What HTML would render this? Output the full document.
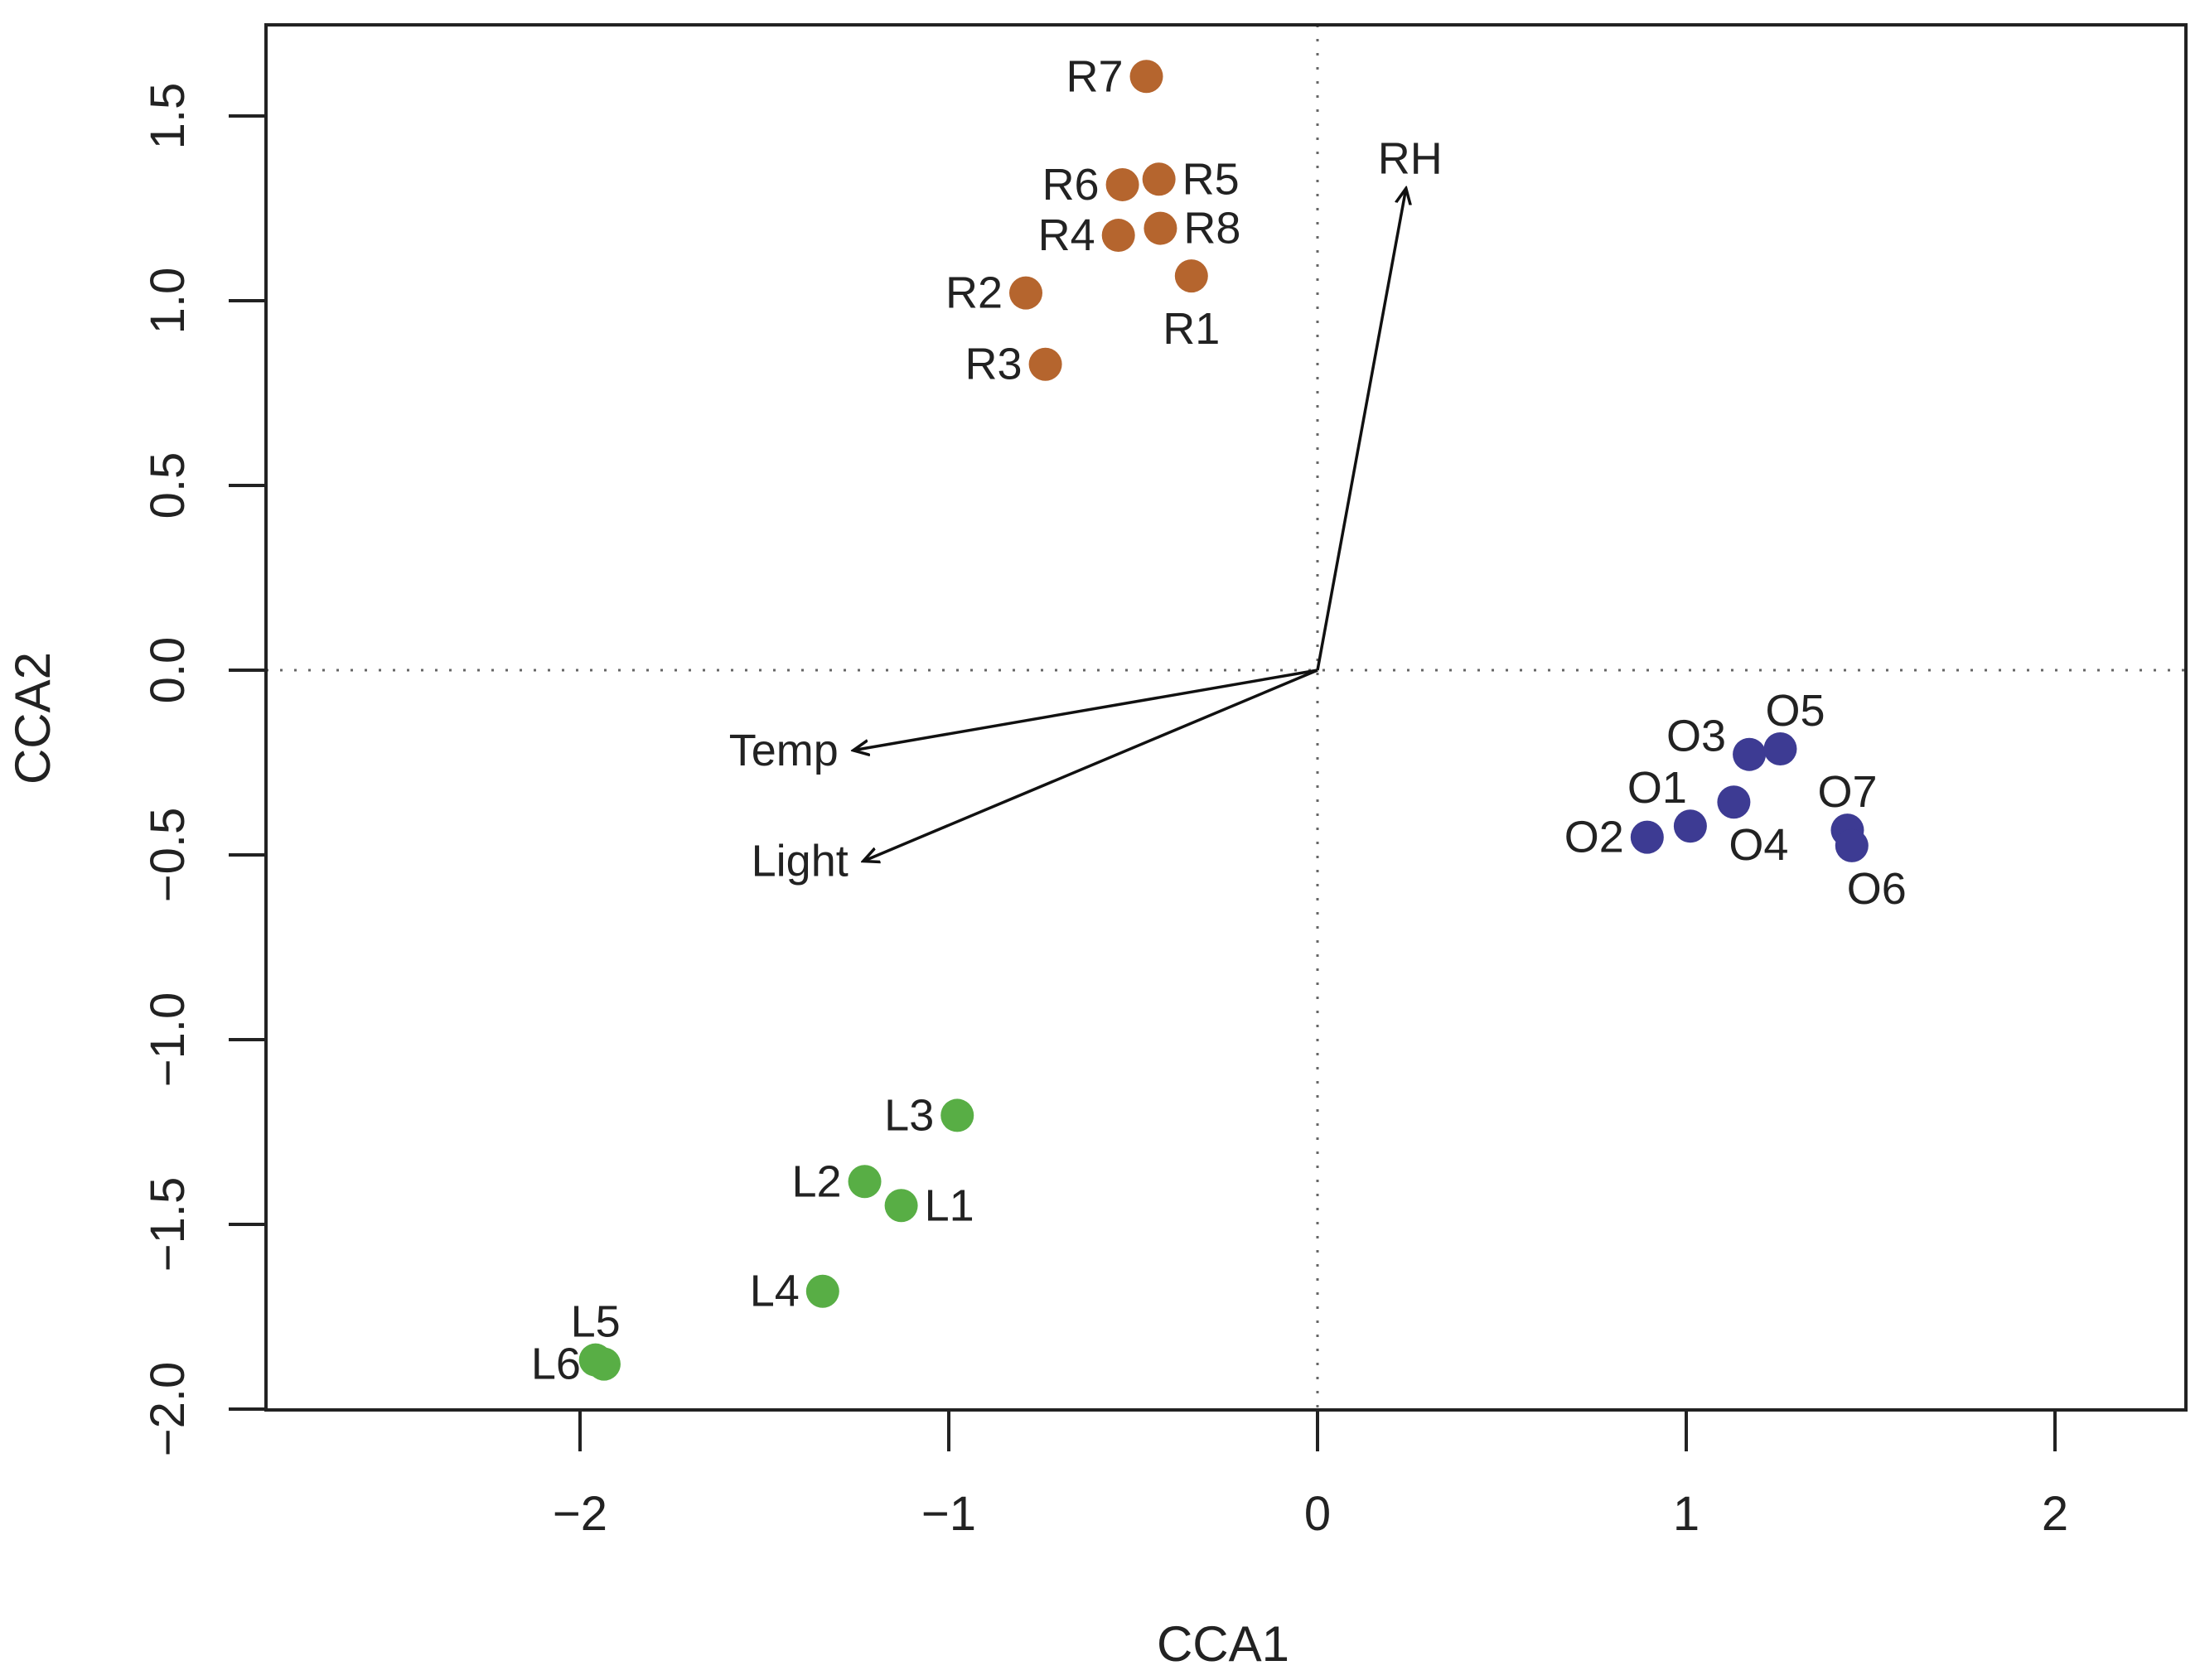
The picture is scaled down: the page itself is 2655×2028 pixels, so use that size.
<!DOCTYPE html>
<html><head><meta charset="utf-8"><style>
html,body{margin:0;padding:0;background:#fff;}
svg{display:block;font-family:"Liberation Sans",Arial,sans-serif;}
</style></head><body>
<svg id="chart" width="2655" height="2028" viewBox="0 0 2655 2028" xmlns="http://www.w3.org/2000/svg">
<defs><marker id="ah" markerWidth="22" markerHeight="22" refX="19" refY="11" orient="auto" markerUnits="userSpaceOnUse" viewBox="0 0 22 22"><path d="M0,2 L19,11 L0,20" fill="none" stroke="#111" stroke-width="3.5"/></marker></defs>
<g id="plot"></g>
</svg>
<script>
const siteNames = ["R7","R6","R5","R4","R8","R2","R1","R3","O3","O5","O4","O1","O2","O7","O6","L3","L2","L1","L4","L5","L6"];
const siteX = [-0.464,-0.529,-0.430,-0.540,-0.426,-0.791,-0.342,-0.738,1.171,1.255,1.129,1.011,0.894,1.437,1.449,-0.977,-1.228,-1.129,-1.342,-1.958,-1.935];
const siteY = [1.607,1.314,1.329,1.177,1.196,1.021,1.067,0.828,-0.228,-0.213,-0.357,-0.422,-0.452,-0.433,-0.475,-1.205,-1.384,-1.449,-1.681,-1.867,-1.878];
const siteGroup = ["R","R","R","R","R","R","R","R","O","O","O","O","O","O","O","L","L","L","L","L","L"];
const labelSide = ["l","l","r","l","r","l","b","l","tl","tr","br","tl2","l","t","br","l","l","r","l","t","l"];
const envNames = ["RH","Temp","Light"];
const envX = [0.240,-1.259,-1.232];
const envY = [1.304,-0.217,-0.517];
const xTicks = [-2,-1,0,1,2];
const xTickLabels = ["\u22122","\u22121","0","1","2"];
const yTicks = [-2,-1.5,-1,-0.5,0,0.5,1,1.5];
const yTickLabels = ["\u22122.0","\u22121.5","\u22121.0","\u22120.5","0.0","0.5","1.0","1.5"];

const L=321,R=2638,T=30,B=1702;
const X0=1590,XS=445,Y0=809,YS=446;
const sx=v=>X0+XS*v, sy=v=>Y0-YS*v;
const colors={R:"#b5652e",O:"#3d3b93",L:"#58ae45"};
const NS="http://www.w3.org/2000/svg";
const g=document.getElementById("plot");
function mk(tag,attrs,parent){const e=document.createElementNS(NS,tag);for(const k in attrs)e.setAttribute(k,attrs[k]);(parent||g).appendChild(e);return e;}

let zl=mk("line",{x1:L,x2:R,y1:sy(0),y2:sy(0),stroke:"#666","stroke-width":3,"stroke-dasharray":"3 14"});


let zv=mk("line",{x1:sx(0),x2:sx(0),y1:T,y2:B,stroke:"#666","stroke-width":3,"stroke-dasharray":"3 14"});



let fr=mk("rect",{x:L,y:T,width:R-L,height:B-T,fill:"none",stroke:"#222","stroke-width":4});



xTicks.forEach((v,i)=>{
  let t=mk("line",{x1:sx(v),x2:sx(v),y1:B,y2:B+50,stroke:"#222","stroke-width":4});
  
  
  let tx=mk("text",{x:sx(v),y:1847,"text-anchor":"middle","font-size":58,fill:"#222"});
  tx.textContent=xTickLabels[i];
  
  
});
yTicks.forEach((v,i)=>{
  let t=mk("line",{x1:L-45,x2:L,y1:sy(v),y2:sy(v),stroke:"#222","stroke-width":4});
  
  
  let tx=mk("text",{x:0,y:0,"text-anchor":"middle","font-size":58,fill:"#222",transform:`translate(222,${sy(v)}) rotate(-90)`});
  tx.textContent=yTickLabels[i];
  
  
});
let xt=mk("text",{x:1476,y:2005,"text-anchor":"middle","font-size":60,fill:"#222"});
xt.textContent="CCA1";


let yt=mk("text",{x:0,y:0,"text-anchor":"middle","font-size":60,fill:"#222",transform:"translate(60,867) rotate(-90)"});
yt.textContent="CCA2";



envNames.forEach((n,i)=>{
  let a=mk("line",{x1:sx(0),y1:sy(0),x2:sx(envX[i]),y2:sy(envY[i]),stroke:"#111","stroke-width":3.5,"marker-end":"url(#ah)"});
  
  
  let tx=mk("text",{"font-size":54,fill:"#222"});
  if(i===0){tx.setAttribute("x",sx(envX[i])+5);tx.setAttribute("y",sy(envY[i])-18);tx.setAttribute("text-anchor","middle");}
  else{tx.setAttribute("x",sx(envX[i])-18);tx.setAttribute("y",sy(envY[i])+18);tx.setAttribute("text-anchor","end");}
  tx.textContent=n;
  
  
});

siteNames.forEach((n,i)=>{
  const cx=sx(siteX[i]),cy=sy(siteY[i]);
  let c=mk("circle",{cx:cx,cy:cy,r:20,fill:colors[siteGroup[i]]});
  
  
  const s=labelSide[i];
  let tx=mk("text",{"font-size":54,fill:"#222"});
  let x=cx,y=cy+18,anc="middle";
  if(s==="l"){x=cx-28;anc="end";}
  else if(s==="r"){x=cx+28;anc="start";}
  else if(s==="b"){y=cy+82;}
  else if(s==="t"){y=cy-28;}
  else if(s==="tr"){x=cx+18;y=cy-28;}
  else if(s==="tl"){x=cx-28;y=cy-4;anc="end";}
  else if(s==="tl2"){x=cx-40;y=cy-28;}
  else if(s==="br"){x=cx+30;y=cy+70;}
  tx.setAttribute("x",x);tx.setAttribute("y",y);tx.setAttribute("text-anchor",anc);
  tx.textContent=n;
  
  
});
</script>
</body></html>
